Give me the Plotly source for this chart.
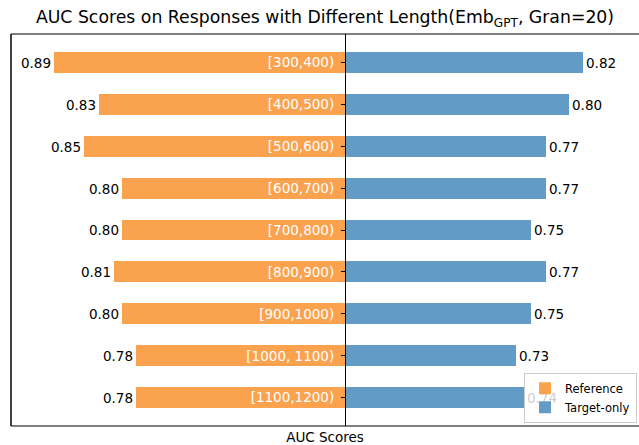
import plotly.graph_objects as go

categories = ["[300,400)", "[400,500)", "[500,600)", "[600,700)", "[700,800)",
              "[800,900)", "[900,1000)", "[1000, 1100)", "[1100,1200)"]
reference_auc = [0.89, 0.83, 0.85, 0.80, 0.80, 0.81, 0.80, 0.78, 0.78]
target_only_auc = [0.82, 0.80, 0.77, 0.77, 0.75, 0.77, 0.75, 0.73, 0.74]
baseline = 0.5

ORANGE = "#FBA24F"
BLUE = "#629CC6"
FONT = "DejaVu Sans"

W, H = 639, 445
L, R, T, B = 11, 0, 34, 19
px_per_unit = 745.0
center_px = 345
x_min = -(center_px - L) / px_per_unit
x_max = (W - R - center_px) / px_per_unit

fig = go.Figure()
fig.add_trace(go.Bar(
    y=categories, x=[-(v - baseline) for v in reference_auc], orientation="h",
    name="Reference", marker=dict(color=ORANGE, line=dict(width=0)), width=0.5,
    text=[f"{v:.2f}" for v in reference_auc], textposition="outside",
    textfont=dict(size=13.5, color="black", family=FONT), constraintext="none",
    cliponaxis=False, hoverinfo="skip",
))
fig.add_trace(go.Bar(
    y=categories, x=[v - baseline for v in target_only_auc], orientation="h",
    name="Target-only", marker=dict(color=BLUE, line=dict(width=0)), width=0.5,
    text=[f"{v:.2f}" for v in target_only_auc], textposition="outside",
    textfont=dict(size=13.5, color="black", family=FONT), constraintext="none",
    cliponaxis=False, hoverinfo="skip",
))

pos = (center_px - L) / (W - L - R)
fig.update_layout(
    width=W, height=H, margin=dict(l=L, r=R, t=T, b=B, autoexpand=False),
    paper_bgcolor="white", plot_bgcolor="white",
    barmode="overlay", bargap=0,
    font=dict(family=FONT, size=13.5, color="black"),
    title=dict(text="AUC Scores on Responses with Different Length(Emb<sub>GPT</sub>, Gran=20)",
               x=(L + (W - L - R) / 2) / W, xanchor="center", y=1 - 17 / H, yanchor="middle",
               font=dict(size=17.3, family=FONT, color="black")),
    xaxis=dict(range=[x_min, x_max], showticklabels=False, ticks="", showgrid=False,
               zeroline=False, showline=False, fixedrange=True,
               title=dict(text="AUC Scores", standoff=6, font=dict(size=13.5, family=FONT))),
    yaxis=dict(range=[8.675, -0.675], anchor="free", position=pos, side="left",
               showline=True, linecolor="black", linewidth=1.2,
               ticks="outside", ticklen=4, tickwidth=1, tickcolor="black",
               tickfont=dict(color="white", size=13.5, family=FONT),
               ticklabelstandoff=4, showgrid=False, zeroline=False, automargin=False,
               fixedrange=True),
    legend=dict(x=(637 - L) / (W - L - R), xanchor="right", y=0.008, yanchor="bottom",
                bgcolor="rgba(255,255,255,0.8)", bordercolor="#cccccc", borderwidth=1,
                font=dict(size=11.5, family=FONT), traceorder="normal",
                tracegroupgap=0, itemwidth=30),
    showlegend=True,
    shapes=[
        dict(type="line", xref="paper", yref="paper", x0=0, x1=0, y0=0, y1=1,
             line=dict(color="black", width=1.5)),
        dict(type="line", xref="paper", yref="paper", x0=0, x1=1, y0=1, y1=1,
             line=dict(color="black", width=1.2)),
        dict(type="line", xref="paper", yref="paper", x0=0, x1=1, y0=0, y1=0,
             line=dict(color="black", width=1.2)),
    ],
)

fig.write_html("out.html", config={"displayModeBar": False},
               post_script="document.body.style.margin='0';document.body.style.overflow='hidden';")
